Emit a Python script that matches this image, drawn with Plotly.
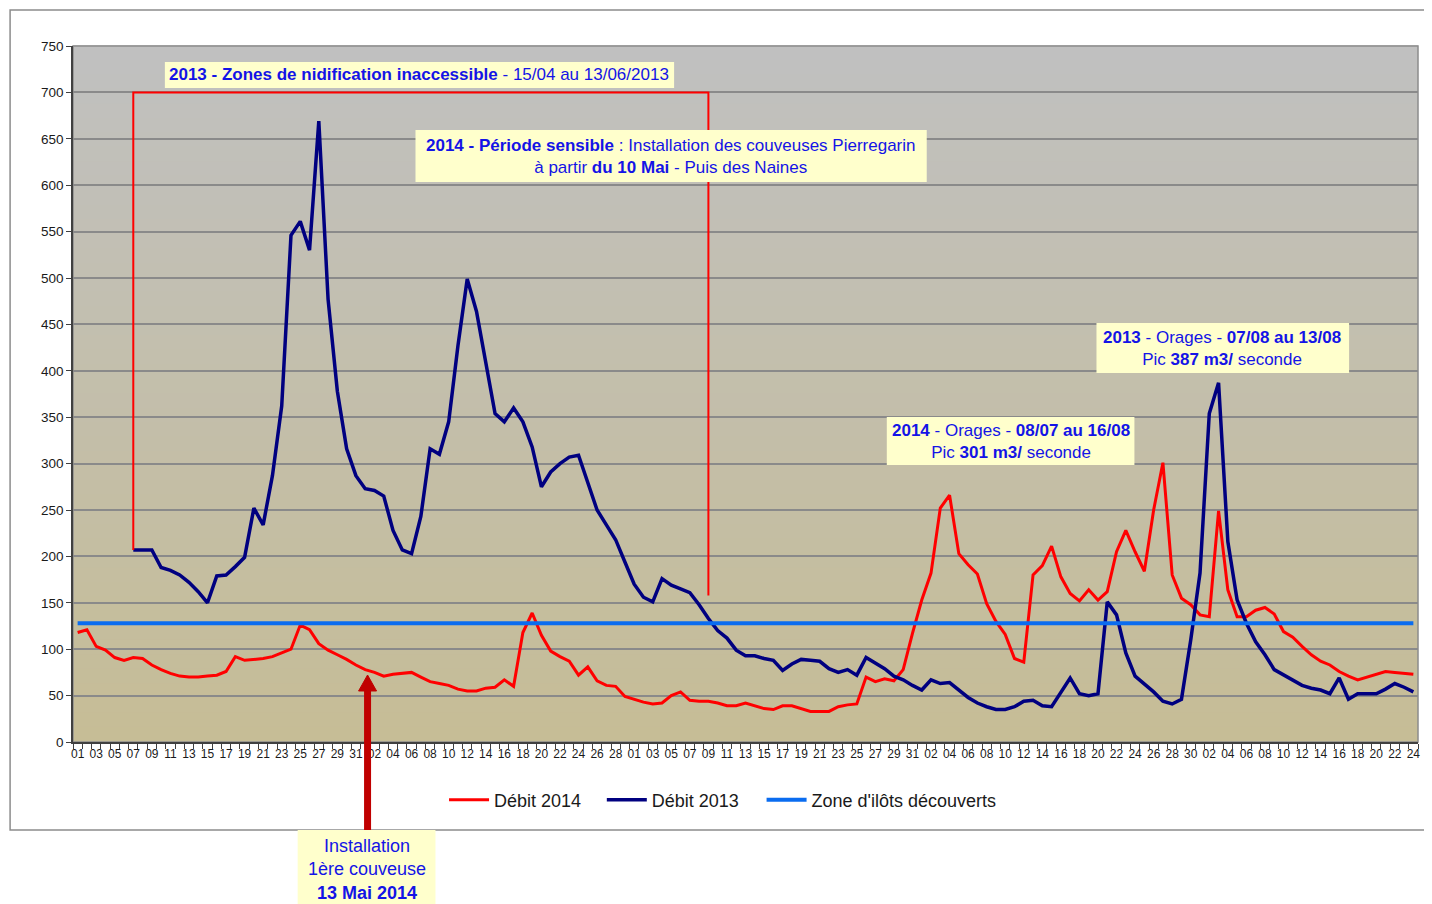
import plotly.graph_objects as go

# ---------------- data ----------------
TICK_LABELS = [
    "01", "03", "05", "07", "09", "11", "13", "15", "17", "19", "21", "23", "25", "27", "29", "31",
    "02", "04", "06", "08", "10", "12", "14", "16", "18", "20", "22", "24", "26", "28",
    "01", "03", "05", "07", "09", "11", "13", "15", "17", "19", "21", "23", "25", "27", "29", "31",
    "02", "04", "06", "08", "10", "12", "14", "16", "18", "20", "22", "24", "26", "28", "30",
    "02", "04", "06", "08", "10", "12", "14", "16", "18", "20", "22", "24",
]

DEBIT_2014 = [
    118, 121, 103, 99, 91, 88, 91, 90, 83, 78,
    74, 71, 70, 70, 71, 72, 76, 92, 88, 89,
    90, 92, 96, 100, 126, 121, 106, 99, 94, 89,
    83, 78, 75, 71, 73, 74, 75, 70, 65, 63,
    61, 57, 55, 55, 58, 59, 67, 60, 118, 139,
    115, 98, 92, 87, 72, 81, 66, 61, 60, 49,
    46, 43, 41, 42, 50, 54, 45, 44, 44, 42,
    39, 39, 42, 39, 36, 35, 39, 39, 36, 33,
    33, 33, 38, 40, 41, 70, 65, 68, 66, 78,
    117, 153, 182, 252, 266, 203, 191, 181, 149, 130,
    116, 90, 86, 180, 190, 211, 178, 160, 152, 164,
    153, 162, 205, 228, 205, 184, 250, 301, 180, 155,
    148, 137, 135, 249, 164, 135, 135, 142, 145, 138,
    119, 113, 103, 94, 87, 83, 76, 71, 67, 70,
    73, 76, 75, 74, 73,
]

DEBIT_2013 = [
    None, None, None, None, None, None,
    207, 207, 207, 188, 185, 180, 172, 162, 150,
    179, 180, 189, 199, 252, 234, 287, 362,
    546, 561, 530, 669, 477, 378, 316, 287,
    273, 271, 265, 228, 207, 203, 243, 316, 310,
    345, 427, 499, 464, 408, 354, 345, 360, 345, 318,
    275, 291, 300, 307, 309, 280, 250, 234, 218, 194,
    170, 156, 151, 176, 169, 165, 161, 148, 133, 120,
    112, 99, 93, 93, 90, 88, 77, 84, 89, 88,
    87, 79, 75, 78, 72, 91, 85, 79, 71, 67,
    61, 56, 67, 63, 64, 56, 48, 42, 38, 35,
    35, 38, 44, 45, 39, 38, 53, 69, 52, 50,
    52, 151, 137, 96, 71, 63, 54, 44, 41, 46,
    110, 182, 354, 387, 216, 153, 128, 108, 94, 78,
    72, 66, 61, 58, 56, 52, 69, 46, 52, 52,
    52, 57, 63, 59, 54,
]

ZONE_ILOTS = 128

# red frame "zones inaccessible 2013" corners (category index, value)
FRAME_X = [6, 6, 68, 68]
FRAME_Y = [207, 700, 700, 158]

# ---------------- layout helpers ----------------
OFF = 8                      # default body margin of the html page
W, H = 1432 - OFF, 904 - OFF
PL, PR, PT, PB = 73, 1420, 46, 742  # plot area in screen px


def px(x):
    return (x - PL) / (PR - PL)


def py(y):
    return (PB - y) / (PB - PT)


FONT = "Liberation Sans, Arial, sans-serif"
BLUE_TXT = "#1414E6"
BOX_FILL = "#FFFFCC"

n = len(DEBIT_2014)
xs = list(range(n))

fig = go.Figure()
fig.add_trace(go.Scatter(x=xs, y=DEBIT_2014, mode="lines", name="Débit 2014",
                         line=dict(color="#FF0000", width=3), legend="legend"))
fig.add_trace(go.Scatter(x=xs, y=DEBIT_2013, mode="lines", name="Débit 2013",
                         line=dict(color="#000080", width=3.5), legend="legend2"))
fig.add_trace(go.Scatter(x=[xs[0], xs[-1]], y=[ZONE_ILOTS, ZONE_ILOTS], mode="lines",
                         name="Zone d'ilôts découverts",
                         line=dict(color="#0A6CF0", width=4), legend="legend3"))

shapes = []
# gradient background of the plot area
top_c = (192, 192, 192)
bot_c = (198, 189, 150)
NS = 48
for k in range(NS):
    t = (k + 0.5) / NS
    c = tuple(round(top_c[j] + (bot_c[j] - top_c[j]) * t) for j in range(3))
    shapes.append(dict(type="rect", xref="paper", yref="paper",
                       x0=0, x1=1, y0=1 - (k + 1) / NS, y1=1 - k / NS + 0.001,
                       fillcolor="rgb(%d,%d,%d)" % c, line=dict(width=0), layer="below"))
# outer chart border
shapes.append(dict(type="rect", xref="paper", yref="paper",
                   x0=px(10), x1=px(1450), y0=py(830), y1=py(10),
                   line=dict(color="#8C8C8C", width=1.5), fillcolor="rgba(0,0,0,0)", layer="below"))
# plot area border (right/top)
shapes.append(dict(type="rect", xref="paper", yref="paper", x0=0, x1=1, y0=0, y1=1,
                   line=dict(color="#8C8C8C", width=1.5), fillcolor="rgba(0,0,0,0)", layer="below"))
# red frame
path = "M %s,%s " % (FRAME_X[0], FRAME_Y[0]) + " ".join(
    "L %s,%s" % (a, b) for a, b in zip(FRAME_X[1:], FRAME_Y[1:]))
shapes.append(dict(type="path", xref="x", yref="y", path=path,
                   line=dict(color="#FF0000", width=2), layer="above"))

# annotation boxes (screen px coordinates)
boxes = [
    (165, 675, 62, 88),
    (416, 928, 130, 182),
    (888, 1136, 417, 465),
    (1098, 1351, 323, 373),
    (298, 436, 830, 910),
]
for x0, x1, y0, y1 in boxes:
    shapes.append(dict(type="rect", xref="paper", yref="paper",
                       x0=px(x0), x1=px(x1), y0=py(y1), y1=py(y0),
                       fillcolor=BOX_FILL, line=dict(width=0), layer="above"))

# dark red arrow
shapes.append(dict(type="line", xref="paper", yref="paper",
                   x0=px(368), x1=px(368), y0=py(830), y1=py(690),
                   line=dict(color="#C00000", width=7), layer="above"))
shapes.append(dict(type="path", xref="paper", yref="paper",
                   path="M %f,%f L %f,%f L %f,%f Z" % (px(359), py(691), px(377), py(691), px(368), py(675)),
                   fillcolor="#C00000", line=dict(color="#C00000", width=1), layer="above"))

annotations = [
    dict(x=px(420), y=py(75), size=17,
         text="<b>2013 - Zones de nidification inaccessible</b> - 15/04 au 13/06/2013"),
    dict(x=px(672), y=py(156), size=17,
         text="<b>2014 - Période sensible</b> : Installation des couveuses Pierregarin<br>"
              "à partir <b>du 10 Mai</b> - Puis des Naines"),
    dict(x=px(1012), y=py(441), size=17,
         text="<b>2014</b> - Orages - <b>08/07 au 16/08</b><br>Pic <b>301 m3/</b> seconde"),
    dict(x=px(1224), y=py(348), size=17,
         text="<b>2013</b> - Orages - <b>07/08 au 13/08</b><br>Pic <b>387 m3/</b> seconde"),
    dict(x=px(367), y=py(869), size=18,
         text="Installation<br>1ère couveuse<br><b>13 Mai 2014</b>"),
]
for a in annotations:
    s = a.pop("size")
    a.update(xref="paper", yref="paper", showarrow=False, xanchor="center", yanchor="middle",
             font=dict(family=FONT, size=s, color=BLUE_TXT), align="center")


def legend_at(x_screen):
    return dict(orientation="h", x=px(x_screen - 5.4), y=py(800), xanchor="left", yanchor="middle",
                bgcolor="rgba(0,0,0,0)", font=dict(family=FONT, size=18, color="#1A1A1A"),
                itemwidth=40)


fig.update_layout(
    width=W, height=H,
    margin=dict(l=PL - OFF, r=W + OFF - PR, t=PT - OFF, b=H + OFF - PB),
    paper_bgcolor="white",
    plot_bgcolor="rgba(0,0,0,0)",
    font=dict(family=FONT, color="#1A1A1A"),
    shapes=shapes,
    annotations=annotations,
    showlegend=True,
    legend=legend_at(450),
    legend2=legend_at(608),
    legend3=legend_at(768),
)
fig.update_xaxes(
    range=[-0.5, n - 0.5], showgrid=False, zeroline=False,
    tickmode="array", tickvals=xs[::2], ticktext=TICK_LABELS,
    ticks="", tickfont=dict(family=FONT, size=12, color="#1A1A1A"), tickangle=0,
    showline=True, linecolor="#404040", linewidth=1.5,
    minor=dict(tickmode="linear", tick0=-0.5, dtick=1, ticks="outside", ticklen=5,
               tickcolor="#404040", tickwidth=1),
)
fig.update_yaxes(
    range=[0, 750], dtick=50, tick0=0, showgrid=True, gridcolor="#8A8A8A", gridwidth=1.5,
    zeroline=False, ticks="outside", ticklen=5, tickcolor="#404040",
    tickfont=dict(family=FONT, size=13.5, color="#1A1A1A"),
    showline=True, linecolor="#404040", linewidth=1.5,
)

fig.write_html("out.html")
